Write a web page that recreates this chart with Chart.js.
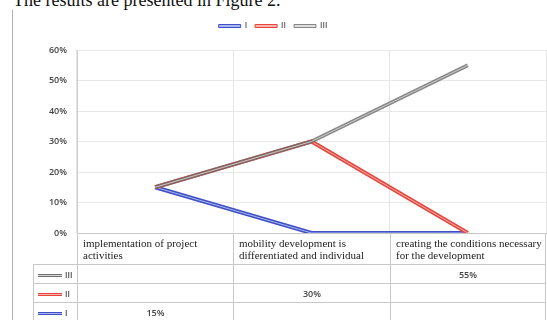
<!DOCTYPE html>
<html lang="en">
<head>
    <meta charset="UTF-8">
    <title>Figure 2</title>
    <style>
        html, body {
            margin: 0;
            width: 547px;
            height: 320px;
            overflow: hidden;
            background: #ffffff;
        }
        .caption {
            position: absolute;
            left: 13px;
            top: -10px;
            font-family: "Liberation Serif", serif;
            font-size: 18px;
            line-height: 20px;
            color: #111;
            white-space: nowrap;
        }
        .page-edge {
            position: absolute;
            left: 12px;
            top: 10px;
            width: 1px;
            height: 310px;
            background: #b0b0b0;
        }
        #chartBox {
            position: absolute;
            left: 0;
            top: 0;
            width: 547px;
            height: 320px;
        }
        /* data table under the plot */
        #dataTable {
            position: absolute;
            left: 33px;
            top: 233px;
            border-collapse: collapse;
            table-layout: fixed;
        }
        #dataTable td {
            border: 1px solid #c8c8c8;
            padding: 0;
            font-family: "Liberation Serif", serif;
            font-size: 11px;
            color: #222;
        }
        #dataTable tr.head td {
            height: 31px;
            vertical-align: top;
            padding: 3px 0 0 5px;
            line-height: 12px;
            box-sizing: border-box;
        }
        #dataTable tr.head td.blank {
            border: none;
        }
        #dataTable tr.row td {
            height: 18px;
            text-align: center;
            font-family: "Open Sans", sans-serif;
            font-weight: 600;
            font-size: 9px;
            color: #444;
        }
        .key {
            display: inline-block;
            vertical-align: middle;
            width: 24px;
            height: 1px;
            border-top: 1.5px solid;
            border-bottom: 1.5px solid;
            margin-right: 3px;
        }
    </style>
</head>
<body>

<div class="caption">The results are presented in Figure 2.</div>
<div class="page-edge"></div>

<div id="chartBox">
    <canvas id="lineChart" width="547" height="320"></canvas>
</div>

<table id="dataTable"></table>

<script src="https://cdn.jsdelivr.net/npm/chart.js"></script>
<script>
    // Data
    const categories = [
        'implementation of project activities',
        'mobility development is differentiated and individual',
        'creating the conditions necessary for the development'
    ];
    const seriesNames = ['I', 'II', 'III'];
    const seriesI = [15, 0, 0];
    const seriesII = [15, 30, 0];
    const seriesIII = [15, 30, 55];
    // values shown in the data table (blank cells are null)
    const tableI = [15, null, null];
    const tableII = [null, 30, null];
    const tableIII = [null, null, 55];
    const yTicks = [0, 10, 20, 30, 40, 50, 60];

    const outer = ['#3f51c4', '#e8463c', 'rgba(105,105,105,0.78)'];
    const inner = ['#aab6f2', '#f7b4ae', 'rgba(215,215,215,0.8)'];
    const values = [seriesI, seriesII, seriesIII];

    // each series is drawn twice: thick dark line + thin light centre (double line look)
    const datasets = [];
    values.forEach(function (v, i) {
        datasets.push({
            label: seriesNames[i],
            data: v,
            borderColor: outer[i],
            backgroundColor: inner[i],
            borderWidth: 4,
            pointRadius: 0,
            tension: 0,
            order: 10 - i * 2
        });
        datasets.push({
            label: seriesNames[i] + '_inner',
            data: v,
            borderColor: inner[i],
            borderWidth: 1,
            pointRadius: 0,
            tension: 0,
            order: 9 - i * 2
        });
    });

    // extra gap between legend and plot
    const legendGap = {
        id: 'legendGap',
        beforeInit: function (chart) {
            const fit = chart.legend.fit;
            chart.legend.fit = function () {
                fit.bind(chart.legend)();
                this.height += 10;
            };
        }
    };

    new Chart(document.getElementById('lineChart'), {
        type: 'line',
        data: { labels: categories, datasets: datasets },
        plugins: [legendGap],
        options: {
            responsive: false,
            animation: false,
            layout: { padding: { top: 14, right: 1, bottom: 87, left: 0 } },
            plugins: {
                tooltip: { enabled: false },
                legend: {
                    position: 'top',
                    labels: {
                        boxWidth: 22,
                        boxHeight: 3,
                        padding: 8,
                        color: '#555',
                        font: { family: 'Open Sans', size: 8, weight: '600' },
                        filter: function (item) { return item.text.indexOf('_inner') < 0; },
                        generateLabels: function (chart) {
                            const items = Chart.defaults.plugins.legend.labels.generateLabels(chart);
                            items.forEach(function (it) {
                                const ds = chart.data.datasets[it.datasetIndex];
                                it.fillStyle = ds.backgroundColor;
                                it.strokeStyle = ds.borderColor;
                                it.lineWidth = 1;
                            });
                            return items;
                        },
                        sort: function (a, b) { return a.datasetIndex - b.datasetIndex; }
                    }
                }
            },
            scales: {
                x: {
                    offset: true,
                    grid: { offset: true, color: '#e4e4e4', drawTicks: false },
                    border: { color: '#d0d0d0' },
                    ticks: { display: false }
                },
                y: {
                    min: 0,
                    max: 60,
                    afterFit: function (scale) { scale.width = 77; },
                    afterBuildTicks: function (scale) {
                        scale.ticks = yTicks.map(function (v) { return { value: v }; });
                    },
                    grid: { color: '#e8e8e8', drawTicks: false },
                    border: { color: '#cfcfcf' },
                    ticks: {
                        padding: 10,
                        color: '#444',
                        font: { family: 'Open Sans', size: 9, weight: '600' },
                        callback: function (v) { return v + '%'; }
                    }
                }
            }
        }
    });

    // build the data table below the plot
    const colWidths = [44, 156, 157, 155];
    const table = document.getElementById('dataTable');
    let html = '<colgroup>' + colWidths.map(function (w) { return '<col style="width:' + w + 'px">'; }).join('') + '</colgroup>';
    html += '<tr class="head"><td class="blank"></td>' +
        categories.map(function (c) { return '<td>' + c + '</td>'; }).join('') + '</tr>';
    const tableRows = [tableIII, tableII, tableI];
    const rowColors = ['#707070', '#e8463c', '#3f51c4'];
    const rowInner = ['#d8d8d8', '#f7b4ae', '#aab6f2'];
    const rowNames = ['III', 'II', 'I'];
    tableRows.forEach(function (r, i) {
        html += '<tr class="row"><td style="text-align:left;padding-left:4px;font-size:8px;">' +
            '<span class="key" style="border-color:' + rowColors[i] + ';background:' + rowInner[i] + '"></span>' +
            rowNames[i] + '</td>' +
            r.map(function (v) { return '<td>' + (v === null ? '' : v + '%') + '</td>'; }).join('') + '</tr>';
    });
    table.innerHTML = html;
</script>
</body>
</html>
